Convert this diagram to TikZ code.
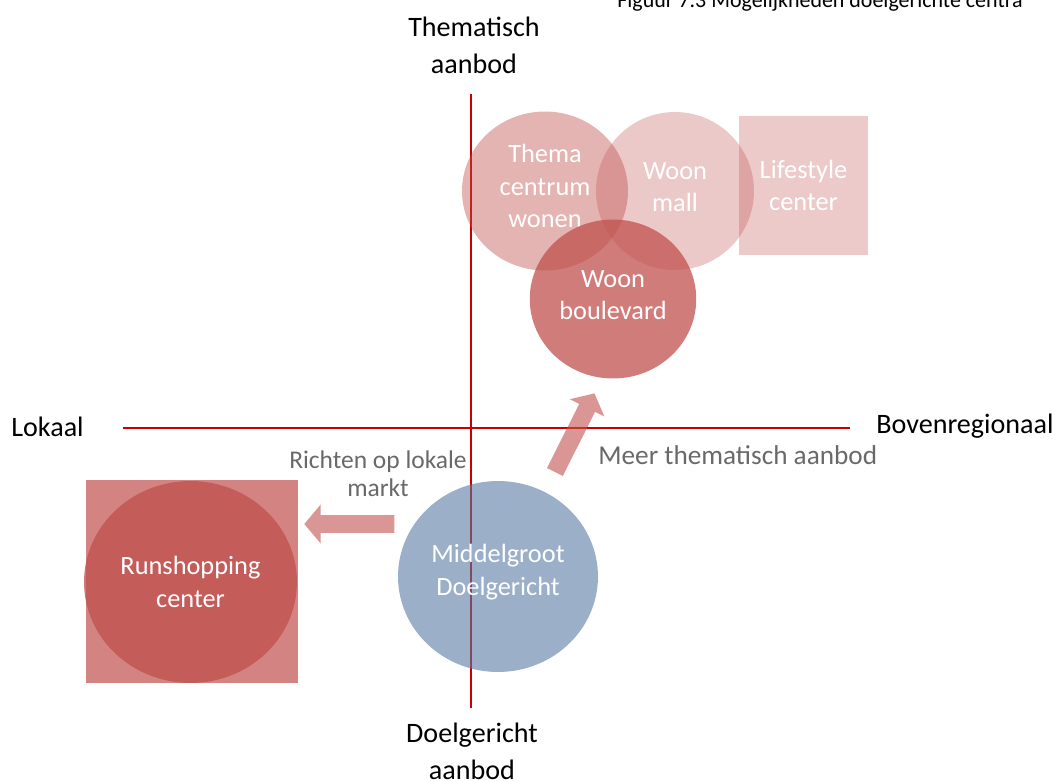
\documentclass[tikz,border=0pt]{standalone}
\usepackage{fontspec}
\setmainfont{Carlito}
\usetikzlibrary{shapes.geometric,shapes.arrows}
\definecolor{vlakrood}{RGB}{192,80,77}
\definecolor{asrood}{RGB}{200,0,0}
\definecolor{vlakblauw}{RGB}{88,122,163}
\definecolor{pengrijs}{RGB}{105,105,105}

\tikzset{
  vlak/.style={ellipse,inner sep=0pt,fill=vlakrood,text=white,text opacity=1,align=center,font=\fontsize{15}{18.4}\selectfont},
  blok/.style={vlak,rectangle},
  as/.style={draw=asrood,line width=1.1pt},
  aslabel/.style={inner sep=0pt,align=center,font=\fontsize{16}{21}\selectfont},
  pen/.style={inner sep=0pt,text=pengrijs,align=center,font=\fontsize{14.5}{16}\selectfont},
  pijl/.style={single arrow,fill=vlakrood,fill opacity=.6,inner sep=.17cm,single arrow head extend=.21cm,single arrow tip angle=100}
}

\begin{document}
\begin{tikzpicture}[x=0.02cm,y=-0.02cm]
\useasboundingbox (0,0) rectangle (1062,781);
% assen
\coordinate (boven) at (471,94);
\coordinate (onder) at (471,708);
\coordinate (links) at (123,428);
\coordinate (rechts) at (850,428);
\draw[as] (boven)--(onder);
\draw[as] (links)--(rechts);

\path
(474,45)    node[aslabel] (thematisch) {Thematisch\\aanbod}
(472,751)   node[aslabel] (doelgericht) {Doelgericht\\aanbod}
(11,426.5)  node[aslabel,anchor=west] (lokaal) {Lokaal}
(876,426)   node[aslabel,anchor=west] (bovenreg) {Bovenregionaal}
(820,8)     node[anchor=base,font=\fontsize{12.5}{15}\selectfont] (figuur) {Figuur 7.3 Mogelijkheden doelgerichte centra};

% thematische centra
\path
(545,191)     node[vlak,fill opacity=.43,text depth=.2cm,minimum width=3.32cm,minimum height=3.18cm] (themacentrum) {Thema\\centrum\\wonen}
(675,191)     node[vlak,fill opacity=.31,text depth=.16cm,minimum width=3.16cm,minimum height=3.16cm] (woonmall) {Woon\\mall}
(803.5,185.5) node[blok,fill opacity=.3,minimum width=2.58cm,minimum height=2.78cm] (lifestyle) {Lifestyle\\center}
(613,299)     node[vlak,fill opacity=.75,text depth=.16cm,minimum width=3.33cm,minimum height=3.18cm] (woonboulevard) {Woon\\boulevard};

% lokaal en middelgroot
\path
(192,581.5) node[blok,fill opacity=.7,minimum width=4.24cm,minimum height=4.06cm] (runvlak) {}
(190.5,582) node[vlak,fill opacity=.77,minimum width=4.26cm,minimum height=4.04cm] (runshopping) {Runshopping\\center}
(498,576.5) node[vlak,fill=vlakblauw,fill opacity=.6,text depth=.27cm,minimum width=4cm,minimum height=3.82cm] (middelgroot) {Middelgroot\\Doelgericht};

% richtingen
\path
(353,524) node[pijl,minimum height=1.8cm,shape border rotate=180] (lokaalpijl) {}
(573,436) node[pijl,minimum height=1.76cm,rotate=63.3] (themapijl) {}
(378,474) node[pen] (richten) {Richten op lokale\\markt}
(598,455) node[pen,anchor=west,font=\fontsize{15.5}{16}\selectfont] (meer) {Meer thematisch aanbod};
\end{tikzpicture}
\end{document}
